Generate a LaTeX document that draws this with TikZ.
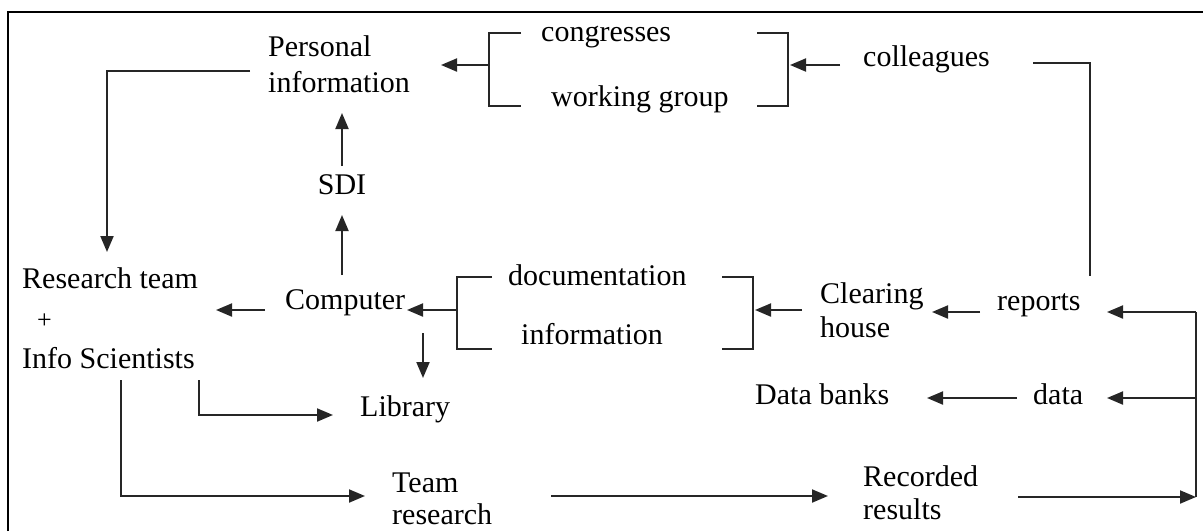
\documentclass[tikz,border=0pt]{standalone}
\usepackage{fontspec}
\setmainfont{Liberation Serif}
\usetikzlibrary{arrows.meta}
\begin{document}
\begin{tikzpicture}[x=1pt,y=-1pt,
  lbl/.style={anchor=west,inner sep=0pt,align=left,font=\fontsize{30}{36}\selectfont},
  ln/.style={line width=2pt,draw=black!85},
  arr/.style={ln,-{Triangle[length=16pt,width=13pt]}},
  frame/.style={line width=2pt,draw=black}
]
\useasboundingbox (0,0) rectangle (1203,531);
\draw[frame] (8,531) -- (8,12) -- (1203,12);

% nodes
\node[lbl] (pinfo) at (268,64) {Personal\\information};
\node[lbl] (congr) at (541,37) {congresses};
\node[lbl] (wgroup) at (551,99) {working group};
\node[lbl] (coll) at (863,59) {colleagues};
\node[lbl,anchor=center] (sdi) at (342,185) {SDI};
\node[lbl,font=\fontsize{30}{40}\selectfont] (rteam) at (22,318) {Research team\\\hspace*{15pt}{\fontsize{26}{26}\selectfont +}\\Info Scientists};
\node[lbl] (comp) at (285,303) {Computer};
\node[lbl] (docu) at (508,275) {documentation};
\node[lbl] (infn) at (521,334) {information};
\node[lbl] (lib) at (360,409) {Library};
\node[lbl,font=\fontsize{30}{34}\selectfont] (clear) at (820,310) {Clearing\\house};
\node[lbl] (rep) at (997,305) {reports};
\node[lbl] (dat) at (1033,394) {data};
\node[lbl] (dbank) at (755,394) {Data banks};
\node[lbl,font=\fontsize{30}{32}\selectfont] (team) at (392,499) {Team\\research};
\node[lbl,font=\fontsize{30}{33}\selectfont] (rec) at (863,493) {Recorded\\results};

% coordinates
\coordinate (pOut) at (250,71);
\coordinate (rtIn) at (107,252);
\coordinate (b1m) at (489,65);
\coordinate (pIn) at (441,65);
\coordinate (b2m) at (790,65);
\coordinate (cOut) at (840,65);
\coordinate (cR) at (1033,63);
\coordinate (repTop) at (1090,276);
\coordinate (sdiTop) at (342,166);
\coordinate (pBot) at (342,113);
\coordinate (compTop) at (342,275);
\coordinate (sdiBot) at (342,215);
\coordinate (compL) at (265,310);
\coordinate (rtR) at (216,310);
\coordinate (b3m) at (457,310);
\coordinate (compR) at (407,310);
\coordinate (clOut) at (802,310);
\coordinate (b4m) at (755,310);
\coordinate (compB) at (423,333);
\coordinate (libT) at (423,378);
\coordinate (rtB1) at (199,380);
\coordinate (libL) at (333,415);
\coordinate (rtB2) at (121,380);
\coordinate (teamL) at (365,496);
\coordinate (teamR) at (551,496);
\coordinate (recL) at (828,496);
\coordinate (recR) at (1018,497);
\coordinate (corner) at (1196,497);
\coordinate (vTop) at (1196,312);
\coordinate (vData) at (1196,398);
\coordinate (repR) at (1107,312);
\coordinate (datR) at (1107,398);
\coordinate (repL) at (980,312);
\coordinate (clR) at (932,312);
\coordinate (datL) at (1017,398);
\coordinate (dbR) at (927,398);

% brackets
\draw[ln] (521,33) -- (489,33) -- (489,106) -- (521,106);
\draw[ln] (757,33) -- (788,33) -- (788,106) -- (757,106);
\draw[ln] (492,277) -- (457,277) -- (457,349) -- (492,349);
\draw[ln] (722,277) -- (753,277) -- (753,349) -- (722,349);

% connectors
\draw[arr] (pOut) -| (rtIn);
\draw[arr] (b1m) -- (pIn);
\draw[arr] (cOut) -- (b2m);
\draw[ln] (cR) -| (repTop);
\draw[arr] (sdiTop) -- (pBot);
\draw[arr] (compTop) -- (sdiBot);
\draw[arr] (compL) -- (rtR);
\draw[arr] (b3m) -- (compR);
\draw[arr] (clOut) -- (b4m);
\draw[arr] (compB) -- (libT);
\draw[arr] (rtB1) |- (libL);
\draw[arr] (rtB2) |- (teamL);
\draw[arr] (teamR) -- (recL);
\draw[arr] (recR) -- (corner);
\draw[ln] (corner) -- (vTop);
\draw[arr] (vTop) -- (repR);
\draw[arr] (vData) -- (datR);
\draw[arr] (repL) -- (clR);
\draw[arr] (datL) -- (dbR);
\end{tikzpicture}
\end{document}
